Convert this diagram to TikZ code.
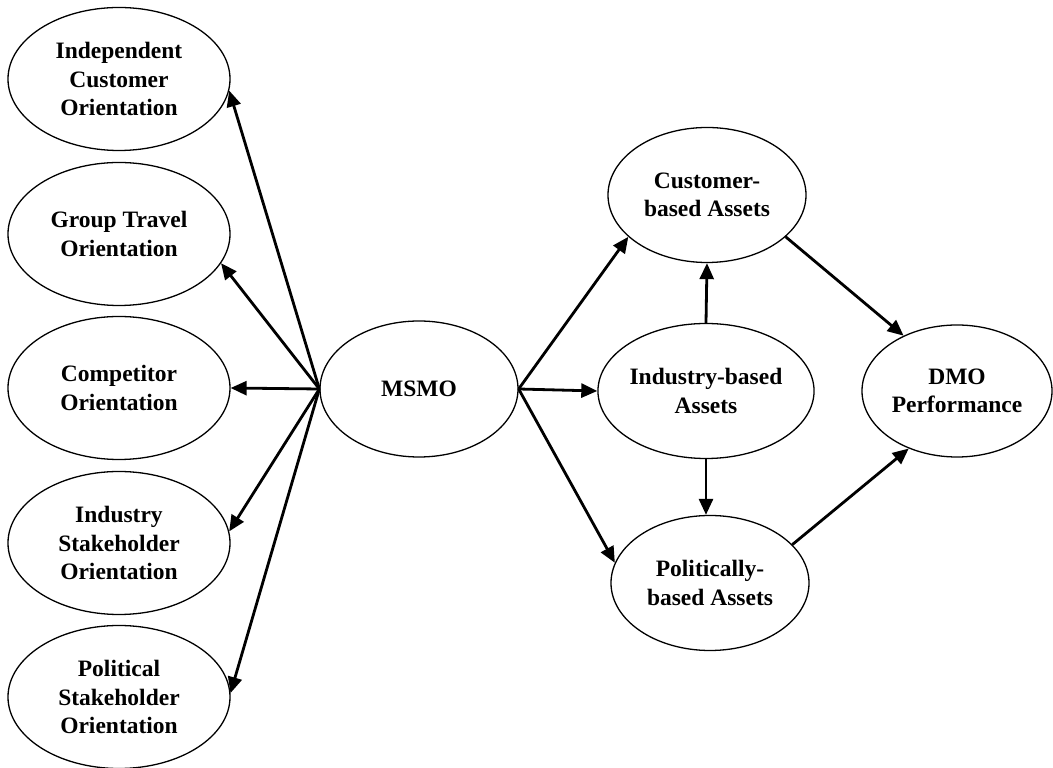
\documentclass[tikz,border=0pt]{standalone}
\usepackage{fontspec}
\setmainfont{Liberation Serif}
\usetikzlibrary{shapes.geometric,arrows.meta}

\begin{document}
\begin{tikzpicture}[x=1pt, y=1pt,
  construct/.style={draw, ellipse, line width=1.3pt, inner sep=0pt, align=center,
    font=\bfseries\fontsize{23.5}{28.5}\selectfont},
  orient/.style={construct, minimum width=222pt, minimum height=143pt},
  asset/.style={construct, minimum width=198pt, minimum height=135pt},
  link/.style={-{Triangle[length=16pt,width=14pt]}, line width=2.8pt}]
  \useasboundingbox (0,0) rectangle (1053,768);

  % Orientation constructs (left column)
  \node[orient] (indep) at (119,689) {Independent\\Customer\\Orientation};
  \node[orient] (group) at (119,534) {Group Travel\\Orientation};
  \node[orient] (compet) at (119,380) {Competitor\\Orientation};
  \node[orient] (indstake) at (119,225) {Industry\\Stakeholder\\Orientation};
  \node[orient] (polstake) at (119,71) {Political\\Stakeholder\\Orientation};

  % Central construct
  \node[construct, minimum width=198pt, minimum height=136pt] (msmo) at (419,379) {MSMO};

  % Asset constructs
  \node[asset] (custasset) at (707,573) {Customer-\\based Assets};
  \node[asset] (indasset) at (706,377) {Industry-based\\Assets};
  \node[asset] (polasset) at (710,185) {Politically-\\based Assets};

  % Outcome
  \node[construct, minimum width=190pt, minimum height=132pt] (dmo) at (957,377) {DMO\\Performance};

  % MSMO to orientations
  \draw[link] (msmo.west) -- (indep.-6);
  \draw[link] (msmo.west) -- (group.-16);
  \draw[link] (msmo.west) -- (compet.east);
  \draw[link] (msmo.west) -- (indstake.6);
  \draw[link] (msmo.west) -- (polstake.2);

  % MSMO to assets
  \draw[link] (msmo.east) -- (custasset.208);
  \draw[link] (msmo.east) -- (indasset.west);
  \draw[link] (msmo.east) -- (polasset.168);
  \draw[link] (indasset.north) -- (custasset.south);
  \draw[link] (indasset.south) -- (polasset.north -| indasset.south);

  % Assets to performance
  \draw[link] (custasset.-28) -- (dmo.134);
  \draw[link] (polasset.25) -- (dmo.230);
\end{tikzpicture}
\end{document}
